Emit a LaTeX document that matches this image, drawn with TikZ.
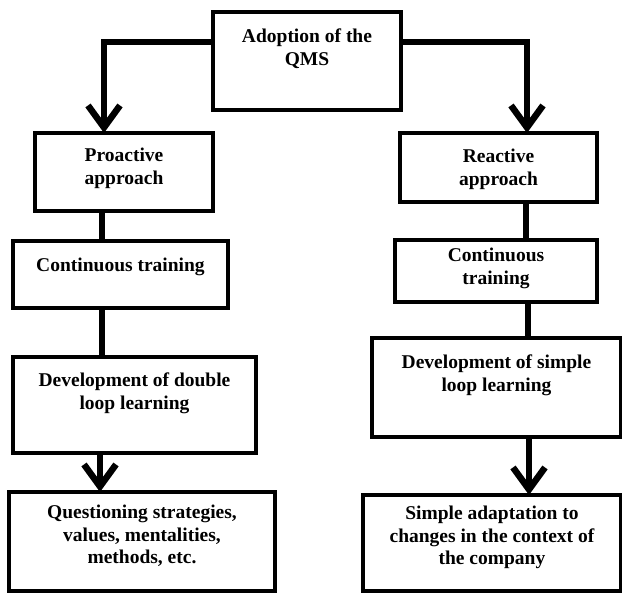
\documentclass[tikz,border=0pt]{standalone}
\usepackage{fontspec}
\setmainfont{Liberation Serif}
\usetikzlibrary{arrows.meta}
\begin{document}
\begin{tikzpicture}[x=1pt,y=-1pt,
 box/.style={draw,line width=4pt,inner sep=0pt,outer sep=0pt},
 txt/.style={anchor=north,inner sep=0pt,align=center,font=\fontsize{19.5}{22.5}\selectfont\bfseries},
 conn/.style={line width=6.5pt},
 arr/.style={conn,-{Straight Barb[length=22pt,width=32pt]}}]
\useasboundingbox (0,0) rectangle (622,593);
% boxes
\node[box,minimum width=188pt,minimum height=98pt] (top) at (307,61) {};
\node[box,minimum width=178pt,minimum height=78pt] (pro) at (124,172) {};
\node[box,minimum width=215pt,minimum height=67pt] (ctl) at (120.5,274.5) {};
\node[box,minimum width=243pt,minimum height=96pt] (dvl) at (134.5,405) {};
\node[box,minimum width=266pt,minimum height=99pt] (qst) at (142,541.5) {};
\node[box,minimum width=197pt,minimum height=69pt] (rea) at (498.5,167.5) {};
\node[box,minimum width=202pt,minimum height=62pt] (ctr) at (496,271) {};
\node[box,minimum width=249pt,minimum height=99pt] (dvr) at (496.5,387.5) {};
\node[box,minimum width=258pt,minimum height=96pt] (sim) at (492,543) {};
% texts
\node[txt] (ttop) at (307,29) {Adoption of the\\QMS};
\node[txt] (tpro) at (124,148) {Proactive\\approach};
\node[txt] (tctl) at (120.5,258) {Continuous training};
\node[txt] (tdvl) at (134.5,373) {Development of double\\loop learning};
\node[txt] (tqst) at (142,505) {Questioning strategies,\\values, mentalities,\\methods, etc.};
\node[txt] (trea) at (498.5,149) {Reactive\\approach};
\node[txt] (tctr) at (496,248) {Continuous\\training};
\node[txt] (tdvr) at (496.5,355) {Development of simple\\loop learning};
\node[txt] (tsim) at (492,506) {Simple adaptation to\\changes in the context of\\the company};
% connectors
\coordinate (jl) at (104,42);
\coordinate (jr) at (527,42);
\draw[arr] (top.west |- jl) -| (jl |- pro.north);
\draw[arr] (top.east |- jr) -| (jr |- rea.north);
\coordinate (xl) at (102,0);
\coordinate (xa) at (100,0);
\draw[conn] (xl |- pro.south) -- (xl |- ctl.north);
\draw[conn] (xl |- ctl.south) -- (xl |- dvl.north);
\draw[arr] (xa |- dvl.south) -- (xa |- qst.north);
\coordinate (xr1) at (526,0);
\coordinate (xr2) at (528,0);
\coordinate (xr3) at (529,0);
\draw[conn] (xr1 |- rea.south) -- (xr1 |- ctr.north);
\draw[conn] (xr2 |- ctr.south) -- (xr2 |- dvr.north);
\draw[arr] (xr3 |- dvr.south) -- (xr3 |- sim.north);
\end{tikzpicture}
\end{document}
